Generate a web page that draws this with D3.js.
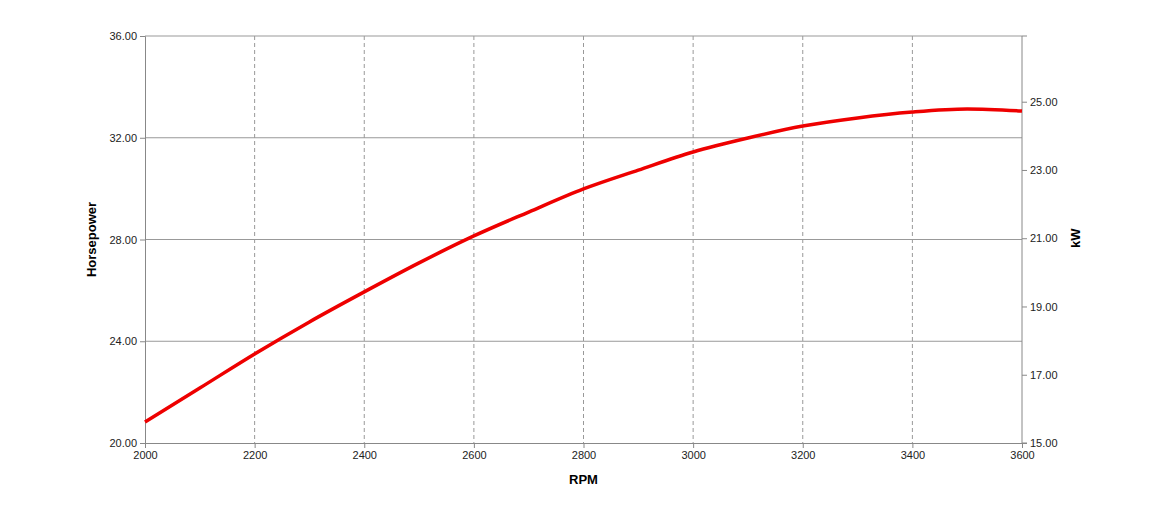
<!DOCTYPE html><html><head><script src="https://cdn.jsdelivr.net/npm/d3@7"></script>
<style>body{margin:0;background:#fff;font-family:"Liberation Sans",Arial,sans-serif}</style></head><body>
<svg id="c" width="1170" height="524"></svg>
<script>
const rpm=[2000,2100,2200,2300,2400,2500,2600,2700,2800,2900,3000,3100,3200,3300,3400,3500,3600];
const hp=[20.83,22.16,23.5,24.76,25.94,27.08,28.14,29.08,29.99,30.73,31.44,31.99,32.46,32.78,33.01,33.13,33.05];
const xTicks=[2000,2200,2400,2600,2800,3000,3200,3400,3600];
const hpTicks=[20,24,28,32,36];
const kwTicks=[15,17,19,21,23,25];
const svg=d3.select("#c");
const L=145,R=1022,T=36,B=443;
const x=d3.scaleLinear().domain([2000,3600]).range([L,R]);
const y=d3.scaleLinear().domain([20,36]).range([B,T]);
const y2=d3.scaleLinear().domain([15,15+16*0.7457*(1-0.0005)]).range([B,T]);
const g=svg.append("g");
xTicks.slice(1,-1).forEach(t=>g.append("line").attr("x1",x(t)).attr("x2",x(t)).attr("y1",T).attr("y2",B).attr("stroke","#999").attr("stroke-dasharray","4,3"));
hpTicks.slice(1).forEach(t=>g.append("line").attr("x1",L).attr("x2",R).attr("y1",y(t)).attr("y2",y(t)).attr("stroke","#999"));
const fmt=d3.format(".2f");
const ax=svg.append("g").attr("transform",`translate(0,${B})`).call(d3.axisBottom(x).tickValues(xTicks).tickSize(5).tickFormat(d3.format("d")));
const ay=svg.append("g").attr("transform",`translate(${L},0)`).call(d3.axisLeft(y).tickValues(hpTicks).tickSize(5).tickFormat(fmt));
const ay2=svg.append("g").attr("transform",`translate(${R},0)`).call(d3.axisRight(y2).tickValues(kwTicks).tickSize(5).tickFormat(fmt));
[ax,ay,ay2].forEach(a=>{a.selectAll("path,line").attr("stroke","#888");a.selectAll("text").attr("font-size",11).attr("fill","#222").attr("font-family","Liberation Sans, Arial");});
ay2.select(".domain").attr("d",`M5,${T}H0V${B}H5`);
svg.append("path").datum(rpm.map((r,i)=>[r,hp[i]])).attr("fill","none").attr("stroke","#ee0000").attr("stroke-width",3.5)
 .attr("d",d3.line().x(d=>x(d[0])).y(d=>y(d[1])).curve(d3.curveMonotoneX));
svg.append("text").attr("x",(L+R)/2).attr("y",484).attr("text-anchor","middle").attr("font-weight","bold").attr("font-size",13).text("RPM");
svg.append("text").attr("transform",`translate(96,${(T+B)/2}) rotate(-90)`).attr("text-anchor","middle").attr("font-weight","bold").attr("font-size",13).text("Horsepower");
svg.append("text").attr("transform",`translate(1080,${y2(21)}) rotate(-90)`).attr("text-anchor","middle").attr("font-weight","bold").attr("font-size",13).text("kW");
</script></body></html>
